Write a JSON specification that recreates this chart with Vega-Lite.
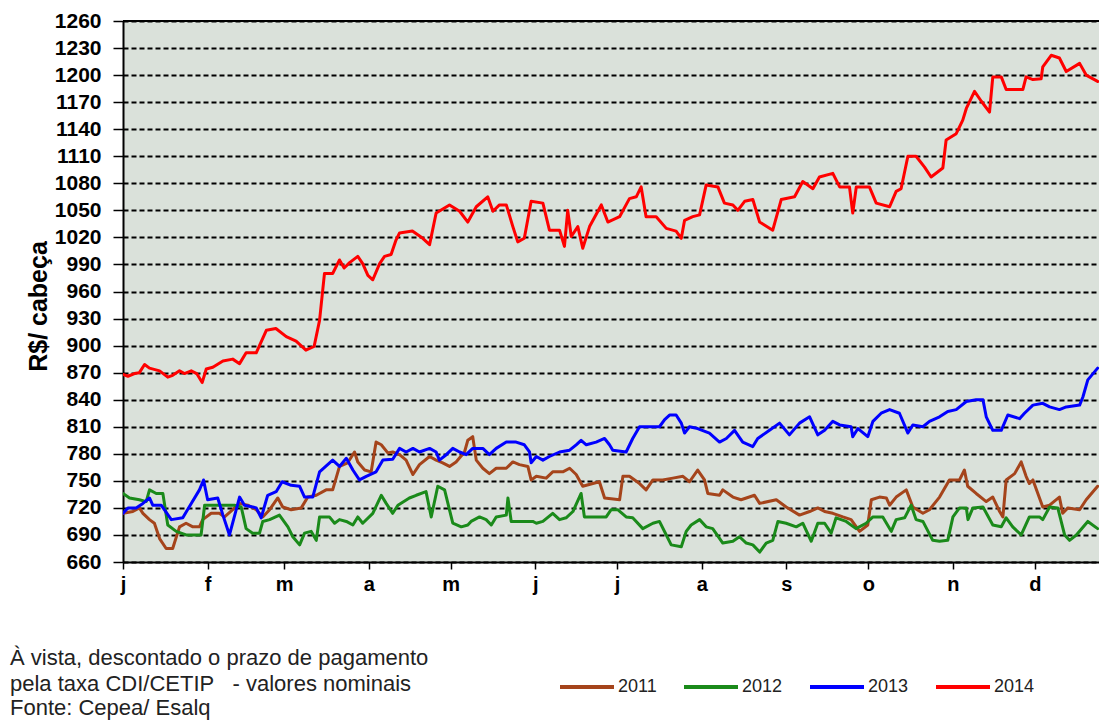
{
  "$schema": "https://vega.github.io/schema/vega-lite/v6.json",
  "autosize": "none",
  "width": 976,
  "height": 541,
  "padding": {"left": 123, "top": 21, "right": 0, "bottom": 159},
  "background": "white",
  "config": {
    "view": {"fill": "#dae1da", "stroke": null},
    "font": "Liberation Sans"
  },
  "title": {
    "text": ["À vista, descontado o prazo de pagamento", "pela taxa CDI/CETIP\u00a0\u00a0\u00a0- valores nominais"],
    "subtitle": "Fonte: Cepea/ Esalq",
    "orient": "bottom",
    "anchor": "start",
    "frame": "group",
    "align": "left",
    "dx": -113,
    "offset": -48,
    "font": "Liberation Sans",
    "fontSize": 22,
    "fontWeight": "normal",
    "color": "#222222",
    "lineHeight": 25.5,
    "subtitleFont": "Liberation Sans",
    "subtitleFontSize": 22,
    "subtitleColor": "#222222",
    "subtitleLineHeight": 25.5,
    "subtitlePadding": 2
  },
  "data": {"values": [
{"s":"2011","d":0,"v":714},{"s":"2011","d":3.6,"v":716},{"s":"2011","d":6,"v":720},{"s":"2011","d":7.3,"v":714},{"s":"2011","d":9.7,"v":707},{"s":"2011","d":11.5,"v":703},{"s":"2011","d":13.4,"v":686},{"s":"2011","d":15.8,"v":675},{"s":"2011","d":18.2,"v":675},{"s":"2011","d":20.7,"v":699},{"s":"2011","d":23.1,"v":703},{"s":"2011","d":25.6,"v":699},{"s":"2011","d":28,"v":699},{"s":"2011","d":29.2,"v":707},{"s":"2011","d":32.3,"v":714},{"s":"2011","d":35.3,"v":714},{"s":"2011","d":37.2,"v":710},{"s":"2011","d":40.2,"v":718},{"s":"2011","d":42.7,"v":725},{"s":"2011","d":45.7,"v":723},{"s":"2011","d":48.8,"v":718},{"s":"2011","d":51.2,"v":710},{"s":"2011","d":53.7,"v":718},{"s":"2011","d":56.7,"v":731},{"s":"2011","d":58.5,"v":721},{"s":"2011","d":61.6,"v":718},{"s":"2011","d":65.3,"v":720},{"s":"2011","d":67.7,"v":732},{"s":"2011","d":70.8,"v":734},{"s":"2011","d":74.4,"v":740},{"s":"2011","d":76.8,"v":740},{"s":"2011","d":79.3,"v":766},{"s":"2011","d":82.3,"v":770},{"s":"2011","d":84.8,"v":782},{"s":"2011","d":86,"v":771},{"s":"2011","d":88.5,"v":762},{"s":"2011","d":90.9,"v":760},{"s":"2011","d":92.7,"v":793},{"s":"2011","d":94.6,"v":790},{"s":"2011","d":97,"v":781},{"s":"2011","d":98.8,"v":782},{"s":"2011","d":101.3,"v":779},{"s":"2011","d":103.7,"v":773},{"s":"2011","d":106.2,"v":757},{"s":"2011","d":108.6,"v":768},{"s":"2011","d":112.3,"v":777},{"s":"2011","d":114.7,"v":773},{"s":"2011","d":117.1,"v":770},{"s":"2011","d":119.6,"v":766},{"s":"2011","d":122,"v":771},{"s":"2011","d":125.1,"v":782},{"s":"2011","d":126.3,"v":795},{"s":"2011","d":128.1,"v":799},{"s":"2011","d":129.4,"v":773},{"s":"2011","d":131.8,"v":764},{"s":"2011","d":134.2,"v":758},{"s":"2011","d":136.7,"v":764},{"s":"2011","d":140.4,"v":764},{"s":"2011","d":142.8,"v":771},{"s":"2011","d":145.2,"v":768},{"s":"2011","d":148.3,"v":766},{"s":"2011","d":149.5,"v":751},{"s":"2011","d":151.4,"v":755},{"s":"2011","d":155,"v":753},{"s":"2011","d":157.4,"v":760},{"s":"2011","d":161.1,"v":760},{"s":"2011","d":163.6,"v":764},{"s":"2011","d":166,"v":757},{"s":"2011","d":168.4,"v":744},{"s":"2011","d":172.1,"v":747},{"s":"2011","d":174.5,"v":749},{"s":"2011","d":176.4,"v":731},{"s":"2011","d":181.9,"v":729},{"s":"2011","d":183.1,"v":755},{"s":"2011","d":185.5,"v":755},{"s":"2011","d":189.2,"v":747},{"s":"2011","d":191.6,"v":740},{"s":"2011","d":194.1,"v":751},{"s":"2011","d":197.7,"v":751},{"s":"2011","d":201.4,"v":753},{"s":"2011","d":205.1,"v":755},{"s":"2011","d":207.5,"v":749},{"s":"2011","d":210.5,"v":762},{"s":"2011","d":213,"v":751},{"s":"2011","d":214.2,"v":736},{"s":"2011","d":218.5,"v":734},{"s":"2011","d":219.7,"v":740},{"s":"2011","d":223.4,"v":732},{"s":"2011","d":226.4,"v":729},{"s":"2011","d":231.3,"v":734},{"s":"2011","d":233.2,"v":725},{"s":"2011","d":239.3,"v":729},{"s":"2011","d":242.9,"v":721},{"s":"2011","d":247.8,"v":712},{"s":"2011","d":251.5,"v":716},{"s":"2011","d":254.5,"v":720},{"s":"2011","d":257,"v":716},{"s":"2011","d":260,"v":714},{"s":"2011","d":263.7,"v":710},{"s":"2011","d":266.7,"v":707},{"s":"2011","d":269.8,"v":694},{"s":"2011","d":272.8,"v":701},{"s":"2011","d":274.1,"v":729},{"s":"2011","d":277.1,"v":732},{"s":"2011","d":279.6,"v":731},{"s":"2011","d":280.8,"v":723},{"s":"2011","d":283.2,"v":732},{"s":"2011","d":286.9,"v":740},{"s":"2011","d":289.3,"v":721},{"s":"2011","d":293,"v":714},{"s":"2011","d":295.4,"v":718},{"s":"2011","d":299.1,"v":732},{"s":"2011","d":302.7,"v":751},{"s":"2011","d":306.4,"v":751},{"s":"2011","d":308.2,"v":762},{"s":"2011","d":309.4,"v":744},{"s":"2011","d":312.5,"v":736},{"s":"2011","d":316.2,"v":727},{"s":"2011","d":318.6,"v":732},{"s":"2011","d":321.1,"v":716},{"s":"2011","d":322.3,"v":710},{"s":"2011","d":323.5,"v":751},{"s":"2011","d":326.6,"v":758},{"s":"2011","d":329,"v":771},{"s":"2011","d":330.8,"v":755},{"s":"2011","d":332,"v":747},{"s":"2011","d":333.3,"v":751},{"s":"2011","d":336.9,"v":721},{"s":"2011","d":339.4,"v":723},{"s":"2011","d":343,"v":732},{"s":"2011","d":344.2,"v":714},{"s":"2011","d":346.1,"v":720},{"s":"2011","d":350.4,"v":718},{"s":"2011","d":352.8,"v":729},{"s":"2011","d":357,"v":744},
{"s":"2012","d":0,"v":736},{"s":"2012","d":2.4,"v":731},{"s":"2012","d":6,"v":729},{"s":"2012","d":8.5,"v":727},{"s":"2012","d":9.7,"v":740},{"s":"2012","d":12.2,"v":736},{"s":"2012","d":14.6,"v":736},{"s":"2012","d":16.4,"v":701},{"s":"2012","d":19.5,"v":694},{"s":"2012","d":23.1,"v":690},{"s":"2012","d":26.8,"v":690},{"s":"2012","d":28.6,"v":690},{"s":"2012","d":29.9,"v":723},{"s":"2012","d":33.5,"v":723},{"s":"2012","d":37.2,"v":723},{"s":"2012","d":40.8,"v":723},{"s":"2012","d":43.3,"v":721},{"s":"2012","d":45.1,"v":697},{"s":"2012","d":47.5,"v":692},{"s":"2012","d":50,"v":692},{"s":"2012","d":51.2,"v":705},{"s":"2012","d":53.7,"v":707},{"s":"2012","d":57.3,"v":712},{"s":"2012","d":60.4,"v":699},{"s":"2012","d":62.2,"v":688},{"s":"2012","d":64.7,"v":679},{"s":"2012","d":66.5,"v":692},{"s":"2012","d":68.9,"v":694},{"s":"2012","d":70.8,"v":684},{"s":"2012","d":72,"v":710},{"s":"2012","d":75.6,"v":710},{"s":"2012","d":77.5,"v":703},{"s":"2012","d":79.3,"v":707},{"s":"2012","d":81.8,"v":705},{"s":"2012","d":84.2,"v":701},{"s":"2012","d":86,"v":710},{"s":"2012","d":87.8,"v":703},{"s":"2012","d":91.5,"v":714},{"s":"2012","d":94.6,"v":734},{"s":"2012","d":96.4,"v":725},{"s":"2012","d":98.8,"v":714},{"s":"2012","d":100.7,"v":723},{"s":"2012","d":104.9,"v":731},{"s":"2012","d":107.4,"v":734},{"s":"2012","d":111,"v":738},{"s":"2012","d":112.9,"v":710},{"s":"2012","d":115.3,"v":744},{"s":"2012","d":117.8,"v":740},{"s":"2012","d":120.8,"v":703},{"s":"2012","d":123.9,"v":699},{"s":"2012","d":126.3,"v":701},{"s":"2012","d":127.5,"v":705},{"s":"2012","d":130.6,"v":710},{"s":"2012","d":133,"v":707},{"s":"2012","d":134.9,"v":701},{"s":"2012","d":136.7,"v":710},{"s":"2012","d":140.4,"v":712},{"s":"2012","d":141,"v":731},{"s":"2012","d":142.2,"v":705},{"s":"2012","d":145.2,"v":705},{"s":"2012","d":150.1,"v":705},{"s":"2012","d":151.4,"v":703},{"s":"2012","d":153.8,"v":705},{"s":"2012","d":157.4,"v":714},{"s":"2012","d":159.9,"v":707},{"s":"2012","d":162.3,"v":709},{"s":"2012","d":164.8,"v":716},{"s":"2012","d":167.8,"v":736},{"s":"2012","d":169,"v":710},{"s":"2012","d":173.3,"v":710},{"s":"2012","d":177,"v":710},{"s":"2012","d":178.8,"v":718},{"s":"2012","d":181.2,"v":718},{"s":"2012","d":184.3,"v":710},{"s":"2012","d":186.7,"v":709},{"s":"2012","d":190.4,"v":697},{"s":"2012","d":194.1,"v":703},{"s":"2012","d":196.5,"v":705},{"s":"2012","d":199,"v":690},{"s":"2012","d":200.8,"v":679},{"s":"2012","d":204.5,"v":677},{"s":"2012","d":206.3,"v":694},{"s":"2012","d":208.1,"v":701},{"s":"2012","d":211.2,"v":707},{"s":"2012","d":213.6,"v":699},{"s":"2012","d":216,"v":697},{"s":"2012","d":219.7,"v":681},{"s":"2012","d":223.4,"v":683},{"s":"2012","d":225.8,"v":688},{"s":"2012","d":228.3,"v":681},{"s":"2012","d":230.7,"v":679},{"s":"2012","d":233.2,"v":671},{"s":"2012","d":235.6,"v":681},{"s":"2012","d":238,"v":684},{"s":"2012","d":239.9,"v":705},{"s":"2012","d":242.9,"v":703},{"s":"2012","d":246.6,"v":699},{"s":"2012","d":249,"v":703},{"s":"2012","d":252.1,"v":683},{"s":"2012","d":254.5,"v":703},{"s":"2012","d":257,"v":703},{"s":"2012","d":259.4,"v":692},{"s":"2012","d":261.2,"v":709},{"s":"2012","d":264.9,"v":705},{"s":"2012","d":268.5,"v":697},{"s":"2012","d":272.2,"v":703},{"s":"2012","d":274.7,"v":710},{"s":"2012","d":278.3,"v":710},{"s":"2012","d":281.4,"v":694},{"s":"2012","d":283.2,"v":707},{"s":"2012","d":286.3,"v":709},{"s":"2012","d":288.7,"v":723},{"s":"2012","d":290.5,"v":707},{"s":"2012","d":293,"v":705},{"s":"2012","d":296.6,"v":684},{"s":"2012","d":299.1,"v":683},{"s":"2012","d":302.1,"v":684},{"s":"2012","d":304,"v":710},{"s":"2012","d":306.4,"v":720},{"s":"2012","d":308.9,"v":720},{"s":"2012","d":309.5,"v":707},{"s":"2012","d":311.3,"v":720},{"s":"2012","d":315,"v":721},{"s":"2012","d":318.6,"v":701},{"s":"2012","d":321.7,"v":699},{"s":"2012","d":323.5,"v":709},{"s":"2012","d":325.9,"v":699},{"s":"2012","d":329,"v":690},{"s":"2012","d":332,"v":710},{"s":"2012","d":335.7,"v":710},{"s":"2012","d":336.9,"v":707},{"s":"2012","d":339.4,"v":721},{"s":"2012","d":342.4,"v":720},{"s":"2012","d":344.9,"v":690},{"s":"2012","d":346.7,"v":684},{"s":"2012","d":349.2,"v":690},{"s":"2012","d":353.4,"v":705},{"s":"2012","d":357,"v":697},
{"s":"2013","d":0,"v":714},{"s":"2013","d":1.8,"v":720},{"s":"2013","d":4.8,"v":720},{"s":"2013","d":7.3,"v":725},{"s":"2013","d":9.7,"v":731},{"s":"2013","d":10.9,"v":723},{"s":"2013","d":14,"v":723},{"s":"2013","d":17.7,"v":707},{"s":"2013","d":21.9,"v":709},{"s":"2013","d":25,"v":725},{"s":"2013","d":28,"v":740},{"s":"2013","d":29.5,"v":751},{"s":"2013","d":31,"v":729},{"s":"2013","d":34.7,"v":731},{"s":"2013","d":36.6,"v":712},{"s":"2013","d":39,"v":690},{"s":"2013","d":42.7,"v":732},{"s":"2013","d":44.5,"v":723},{"s":"2013","d":47.5,"v":721},{"s":"2013","d":48.8,"v":720},{"s":"2013","d":50.6,"v":709},{"s":"2013","d":53,"v":734},{"s":"2013","d":56.1,"v":738},{"s":"2013","d":58.3,"v":749},{"s":"2013","d":61.6,"v":745},{"s":"2013","d":64.7,"v":744},{"s":"2013","d":66.5,"v":732},{"s":"2013","d":69.5,"v":732},{"s":"2013","d":72,"v":760},{"s":"2013","d":76.8,"v":773},{"s":"2013","d":79.3,"v":766},{"s":"2013","d":81.8,"v":775},{"s":"2013","d":84.2,"v":762},{"s":"2013","d":86.6,"v":751},{"s":"2013","d":89.1,"v":755},{"s":"2013","d":92.7,"v":760},{"s":"2013","d":95.2,"v":773},{"s":"2013","d":98.8,"v":774},{"s":"2013","d":101.3,"v":786},{"s":"2013","d":103.7,"v":782},{"s":"2013","d":106.2,"v":786},{"s":"2013","d":108.6,"v":782},{"s":"2013","d":112.3,"v":786},{"s":"2013","d":114.7,"v":782},{"s":"2013","d":115.9,"v":773},{"s":"2013","d":118.4,"v":779},{"s":"2013","d":120.8,"v":786},{"s":"2013","d":123.3,"v":782},{"s":"2013","d":125.7,"v":779},{"s":"2013","d":128.1,"v":786},{"s":"2013","d":131.8,"v":786},{"s":"2013","d":134.2,"v":779},{"s":"2013","d":136.7,"v":786},{"s":"2013","d":140.4,"v":793},{"s":"2013","d":144,"v":793},{"s":"2013","d":147,"v":790},{"s":"2013","d":148.9,"v":782},{"s":"2013","d":149.5,"v":770},{"s":"2013","d":151.4,"v":777},{"s":"2013","d":153.8,"v":773},{"s":"2013","d":156.2,"v":777},{"s":"2013","d":159.9,"v":782},{"s":"2013","d":163.6,"v":784},{"s":"2013","d":166,"v":790},{"s":"2013","d":167.8,"v":795},{"s":"2013","d":169.7,"v":790},{"s":"2013","d":173.3,"v":793},{"s":"2013","d":176.4,"v":797},{"s":"2013","d":178.2,"v":790},{"s":"2013","d":179.4,"v":784},{"s":"2013","d":184.3,"v":782},{"s":"2013","d":186.7,"v":797},{"s":"2013","d":189.2,"v":810},{"s":"2013","d":192.9,"v":810},{"s":"2013","d":196.5,"v":810},{"s":"2013","d":198.4,"v":818},{"s":"2013","d":200.2,"v":823},{"s":"2013","d":202.6,"v":823},{"s":"2013","d":204.5,"v":814},{"s":"2013","d":205.7,"v":803},{"s":"2013","d":207.5,"v":810},{"s":"2013","d":210.5,"v":808},{"s":"2013","d":214.8,"v":803},{"s":"2013","d":218.5,"v":793},{"s":"2013","d":221,"v":797},{"s":"2013","d":224,"v":806},{"s":"2013","d":227,"v":793},{"s":"2013","d":230.7,"v":788},{"s":"2013","d":232.5,"v":797},{"s":"2013","d":236.8,"v":806},{"s":"2013","d":240.5,"v":814},{"s":"2013","d":244.1,"v":801},{"s":"2013","d":247.8,"v":814},{"s":"2013","d":251.5,"v":821},{"s":"2013","d":254.5,"v":801},{"s":"2013","d":257,"v":806},{"s":"2013","d":260,"v":816},{"s":"2013","d":262.5,"v":812},{"s":"2013","d":266.7,"v":810},{"s":"2013","d":267.3,"v":799},{"s":"2013","d":269.2,"v":808},{"s":"2013","d":272.8,"v":799},{"s":"2013","d":274.7,"v":816},{"s":"2013","d":277.7,"v":825},{"s":"2013","d":280.8,"v":829},{"s":"2013","d":284.4,"v":825},{"s":"2013","d":287.5,"v":803},{"s":"2013","d":289.3,"v":812},{"s":"2013","d":293,"v":810},{"s":"2013","d":295.4,"v":816},{"s":"2013","d":299.1,"v":821},{"s":"2013","d":302.1,"v":827},{"s":"2013","d":305.2,"v":829},{"s":"2013","d":308.9,"v":838},{"s":"2013","d":312.5,"v":840},{"s":"2013","d":315,"v":840},{"s":"2013","d":316.2,"v":821},{"s":"2013","d":318.6,"v":806},{"s":"2013","d":321.7,"v":806},{"s":"2013","d":324.1,"v":823},{"s":"2013","d":328.4,"v":819},{"s":"2013","d":330.2,"v":825},{"s":"2013","d":333.3,"v":834},{"s":"2013","d":336.9,"v":836},{"s":"2013","d":339.4,"v":832},{"s":"2013","d":343,"v":829},{"s":"2013","d":345.5,"v":832},{"s":"2013","d":350.4,"v":834},{"s":"2013","d":351.6,"v":843},{"s":"2013","d":353.4,"v":862},{"s":"2013","d":357,"v":875},
{"s":"2014","d":0,"v":868},{"s":"2014","d":1.8,"v":866},{"s":"2014","d":4.2,"v":869},{"s":"2014","d":6,"v":870},{"s":"2014","d":7.9,"v":879},{"s":"2014","d":9.7,"v":875},{"s":"2014","d":13.4,"v":872},{"s":"2014","d":16.4,"v":865},{"s":"2014","d":18.2,"v":867},{"s":"2014","d":20.7,"v":872},{"s":"2014","d":22.5,"v":869},{"s":"2014","d":25,"v":872},{"s":"2014","d":27,"v":869},{"s":"2014","d":29,"v":859},{"s":"2014","d":30.5,"v":874},{"s":"2014","d":32.9,"v":876},{"s":"2014","d":36.6,"v":883},{"s":"2014","d":40.2,"v":885},{"s":"2014","d":42.7,"v":880},{"s":"2014","d":45.1,"v":892},{"s":"2014","d":48.8,"v":892},{"s":"2014","d":52.5,"v":917},{"s":"2014","d":56,"v":919},{"s":"2014","d":59.8,"v":910},{"s":"2014","d":63.4,"v":905},{"s":"2014","d":67,"v":895},{"s":"2014","d":70,"v":899},{"s":"2014","d":72,"v":928},{"s":"2014","d":73.8,"v":980},{"s":"2014","d":76.8,"v":980},{"s":"2014","d":79.3,"v":995},{"s":"2014","d":81,"v":986},{"s":"2014","d":83,"v":992},{"s":"2014","d":86,"v":999},{"s":"2014","d":87.8,"v":991},{"s":"2014","d":89.7,"v":978},{"s":"2014","d":91.5,"v":973},{"s":"2014","d":94,"v":991},{"s":"2014","d":95.8,"v":999},{"s":"2014","d":98.2,"v":1001},{"s":"2014","d":100,"v":1017},{"s":"2014","d":101.3,"v":1025},{"s":"2014","d":106,"v":1027},{"s":"2014","d":109.8,"v":1019},{"s":"2014","d":112.3,"v":1012},{"s":"2014","d":114.7,"v":1047},{"s":"2014","d":119.6,"v":1056},{"s":"2014","d":123.3,"v":1049},{"s":"2014","d":126.3,"v":1037},{"s":"2014","d":129.4,"v":1054},{"s":"2014","d":133.6,"v":1065},{"s":"2014","d":135.5,"v":1049},{"s":"2014","d":137.9,"v":1056},{"s":"2014","d":140.4,"v":1056},{"s":"2014","d":142.8,"v":1032},{"s":"2014","d":144.6,"v":1015},{"s":"2014","d":147,"v":1019},{"s":"2014","d":149.5,"v":1060},{"s":"2014","d":153.8,"v":1058},{"s":"2014","d":156.2,"v":1028},{"s":"2014","d":159.9,"v":1028},{"s":"2014","d":161.7,"v":1010},{"s":"2014","d":162.9,"v":1050},{"s":"2014","d":164.2,"v":1021},{"s":"2014","d":166.6,"v":1032},{"s":"2014","d":168.4,"v":1008},{"s":"2014","d":170.9,"v":1032},{"s":"2014","d":175.2,"v":1056},{"s":"2014","d":177.6,"v":1037},{"s":"2014","d":181.9,"v":1043},{"s":"2014","d":185.5,"v":1063},{"s":"2014","d":188,"v":1065},{"s":"2014","d":189.8,"v":1076},{"s":"2014","d":191.6,"v":1043},{"s":"2014","d":195.3,"v":1043},{"s":"2014","d":199,"v":1030},{"s":"2014","d":202.6,"v":1027},{"s":"2014","d":204.5,"v":1019},{"s":"2014","d":205.7,"v":1039},{"s":"2014","d":208.7,"v":1043},{"s":"2014","d":211.2,"v":1045},{"s":"2014","d":213.6,"v":1078},{"s":"2014","d":217.9,"v":1076},{"s":"2014","d":220.3,"v":1058},{"s":"2014","d":223.4,"v":1056},{"s":"2014","d":225.2,"v":1050},{"s":"2014","d":227.7,"v":1060},{"s":"2014","d":230.7,"v":1062},{"s":"2014","d":233.2,"v":1037},{"s":"2014","d":238,"v":1028},{"s":"2014","d":241.1,"v":1062},{"s":"2014","d":246,"v":1065},{"s":"2014","d":249,"v":1082},{"s":"2014","d":252.7,"v":1074},{"s":"2014","d":255.1,"v":1087},{"s":"2014","d":260,"v":1091},{"s":"2014","d":262.5,"v":1076},{"s":"2014","d":266.1,"v":1076},{"s":"2014","d":267.3,"v":1047},{"s":"2014","d":268.6,"v":1076},{"s":"2014","d":273.4,"v":1076},{"s":"2014","d":275.9,"v":1058},{"s":"2014","d":280.8,"v":1054},{"s":"2014","d":283.2,"v":1071},{"s":"2014","d":285,"v":1074},{"s":"2014","d":287.5,"v":1110},{"s":"2014","d":290.5,"v":1110},{"s":"2014","d":293.6,"v":1098},{"s":"2014","d":296,"v":1087},{"s":"2014","d":300.3,"v":1097},{"s":"2014","d":301.5,"v":1128},{"s":"2014","d":305.2,"v":1135},{"s":"2014","d":307.6,"v":1150},{"s":"2014","d":308.9,"v":1163},{"s":"2014","d":311.9,"v":1182},{"s":"2014","d":314.4,"v":1171},{"s":"2014","d":317.4,"v":1159},{"s":"2014","d":318.6,"v":1198},{"s":"2014","d":321.7,"v":1198},{"s":"2014","d":323.5,"v":1184},{"s":"2014","d":329.6,"v":1184},{"s":"2014","d":330.8,"v":1198},{"s":"2014","d":333.3,"v":1195},{"s":"2014","d":336.3,"v":1196},{"s":"2014","d":336.9,"v":1209},{"s":"2014","d":340,"v":1222},{"s":"2014","d":343,"v":1219},{"s":"2014","d":345.5,"v":1204},{"s":"2014","d":350.4,"v":1213},{"s":"2014","d":352.8,"v":1200},{"s":"2014","d":357,"v":1193}
  ]},
  "layer": [
    {
      "mark": {"type": "line", "strokeJoin": "round", "strokeCap": "round", "clip": true, "strokeWidth": 3},
      "encoding": {
        "x": {
          "field": "d", "type": "quantitative",
          "scale": {"domain": [0, 357.5], "nice": false, "zero": false},
          "axis": {
            "title": null,
            "values": [0, 31, 59, 90, 120, 151, 181, 212, 243, 273, 304, 334],
            "tickCount": 20,
            "labelExpr": "['j','f','m','a','m','j','j','a','s','o','n','d'][indexof([0,31,59,90,120,151,181,212,243,273,304,334], datum.value)]",
            "grid": false,
            "domainColor": "black", "domainWidth": 2,
            "tickColor": "black", "tickWidth": 1.5, "tickSize": 7,
            "labelFont": "Liberation Sans", "labelFontSize": 20, "labelFontWeight": "bold",
            "labelColor": "black", "labelPadding": 5, "labelFlush": false
          }
        },
        "y": {
          "field": "v", "type": "quantitative",
          "scale": {"domain": [660, 1260], "nice": false, "zero": false},
          "axis": {
            "title": "R$/ cabeça",
            "titleFont": "Liberation Sans", "titleFontSize": 25, "titleFontWeight": "bold",
            "titleColor": "black", "titlePadding": 3, "titleY": 285,
            "values": [660, 690, 720, 750, 780, 810, 840, 870, 900, 930, 960, 990, 1020, 1050, 1080, 1110, 1140, 1170, 1200, 1230, 1260],
            "tickCount": 30,
            "format": "d",
            "labelOverlap": false,
            "grid": true, "gridColor": "black", "gridDash": [5, 3], "gridWidth": 1.8, "gridOpacity": 1,
            "domainColor": "black", "domainWidth": 2,
            "tickColor": "black", "tickWidth": 1.5, "tickSize": 10,
            "labelFont": "Liberation Sans", "labelFontSize": 21, "labelFontWeight": "bold",
            "labelColor": "black", "labelPadding": 12
          }
        },
        "color": {
          "field": "s", "type": "nominal",
          "scale": {"domain": ["2011", "2012", "2013", "2014"], "range": ["#a5441b", "#1a8a1a", "#0000ff", "#ff0000"]},
          "legend": {
            "title": null, "orient": "none", "direction": "horizontal",
            "legendX": 435, "legendY": 637,
            "symbolType": "stroke", "symbolSize": 2916, "symbolStrokeWidth": 4,
            "labelFont": "Liberation Sans", "labelFontSize": 18, "labelColor": "#222222",
            "labelOffset": 2, "columnPadding": 19, "padding": 0
          }
        },
        "strokeWidth": {
          "condition": {"test": "datum.s === '2014'", "value": 6},
          "value": 3
        }
      }
    },
    {
      "mark": {"type": "rule", "color": "black", "strokeWidth": 2},
      "encoding": {"y": {"datum": 1260}}
    }
  ]
}
